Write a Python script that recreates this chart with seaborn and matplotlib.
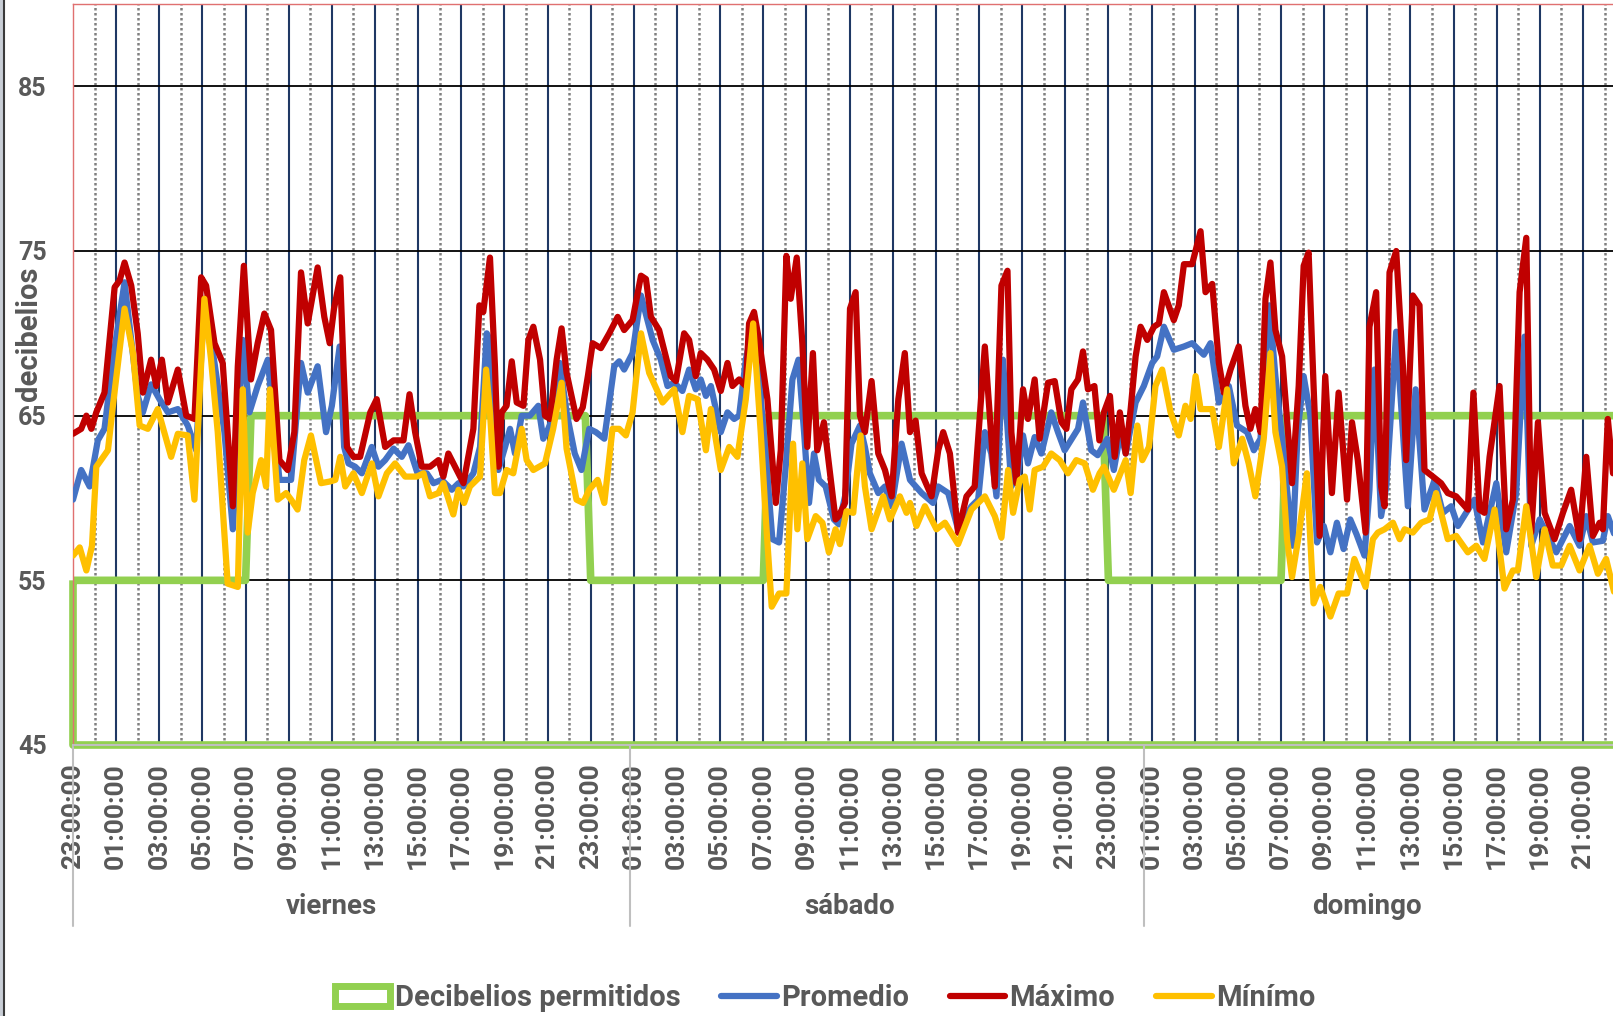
import matplotlib
matplotlib.use("Agg")
import matplotlib.pyplot as plt
import matplotlib.transforms as mtransforms
from matplotlib.lines import Line2D
from matplotlib.patches import Patch, Rectangle
import seaborn as sns

# Horas contadas desde el jueves 23:00:00
perm_h = [0, 8.0, 8.25, 23.75, 24.0, 32.0, 32.25, 47.75, 48.0, 56.0, 56.25, 72.0]
perm_db = [55, 55, 65, 65, 55, 55, 65, 65, 55, 55, 65, 65]

max_h = [0, 0.38, 0.62, 0.85, 1.08, 1.46, 1.93, 2.16, 2.39, 2.7, 3.0, 3.24, 3.62, 3.86, 4.12, 4.4, 4.86,
         5.25, 5.63, 5.94, 6.17, 6.56, 6.94, 7.41, 7.64, 7.92, 8.25, 8.56, 8.87, 9.18, 9.57, 9.95, 10.26,
         10.57, 10.88, 11.34, 11.65, 11.9, 12.1, 12.39, 12.54, 12.7, 13.0, 13.31, 13.78, 14.08, 14.47,
         14.86, 15.32, 15.6, 15.86, 16.17, 16.55, 16.94, 17.17, 17.4, 17.71, 18.1, 18.56, 18.84, 19.02,
         19.33, 19.56, 19.72, 19.87, 20.1, 20.34, 20.57, 20.88, 21.11, 21.34, 21.65, 21.88, 22.11, 22.42,
         22.65, 22.88, 23.34, 23.63, 23.88, 24.09, 24.47, 24.86, 25.25, 25.55, 25.94, 26.33, 26.56, 26.79,
         27.17, 27.71, 27.95, 28.33, 28.56, 28.87, 29.1, 29.41, 29.72, 30.03, 30.34, 30.57, 30.88, 31.19,
         31.34, 31.57, 31.8, 32.19, 32.58, 32.81, 33.07, 33.27, 33.55, 33.81, 34.04, 34.3, 34.5, 34.81,
         35.35, 35.5, 35.79, 36.02, 36.28, 36.48, 36.71, 37.02, 37.33, 37.64, 37.95, 38.26, 38.56, 38.8,
         39.06, 39.34, 39.8, 40.11, 40.34, 40.65, 41.03, 41.42, 41.8, 42.27, 42.5, 42.73, 43.04, 43.32,
         43.5, 43.73, 44.04, 44.27, 44.58, 44.81, 45.2, 45.51, 45.82, 46.05, 46.28, 46.59, 46.82, 47.05,
         47.35, 47.58, 47.79, 48.07, 48.29, 48.53, 48.8, 49.03, 49.26, 49.49, 49.8, 50.11, 50.34, 50.57,
         51.03, 51.26, 51.5, 51.88, 52.27, 52.5, 52.81, 53.12, 53.35, 53.66, 54.04, 54.35, 54.58, 54.81,
         55.05, 55.28, 55.51, 55.74, 56.05, 56.51, 56.82, 57.05, 57.28, 57.51, 57.79, 58.05, 58.36, 58.67,
         59.06, 59.29, 59.56, 59.92, 60.1, 60.41, 60.64, 60.8, 61.03, 61.34, 61.65, 61.8, 62.11, 62.42,
         62.65, 63.04, 63.42, 63.73, 64.12, 64.66, 64.92, 65.2, 65.43, 65.67, 66.13, 66.44, 66.75, 67.06,
         67.37, 67.6, 67.91, 68.22, 68.68, 69.07, 69.45, 69.84, 70.15, 70.46, 70.77, 70.92, 71.15, 71.39,
         71.53]
max_db = [63.9, 64.2, 65.0, 64.2, 65.2, 66.4, 72.8, 73.2, 74.3, 72.9, 70.0, 66.4, 68.4, 66.8, 68.4, 65.8, 67.8,
          65.0, 64.8, 73.4, 72.9, 69.4, 68.2, 59.5, 68.0, 74.1, 67.2, 69.4, 71.2, 70.2, 62.3, 61.7, 64.0,
          73.7, 70.6, 74.0, 71.0, 69.4, 71.5, 73.4, 68.0, 63.1, 62.5, 62.5, 65.2, 66.0, 63.1,
          63.5, 63.5, 66.3, 64.0, 61.9, 61.9, 62.3, 61.3, 62.7, 61.9, 60.9, 64.2, 71.7, 71.3,
          74.6, 68.0, 61.9, 65.2, 65.6, 68.3, 65.8, 65.6, 69.6, 70.4, 68.4, 65.0, 64.8, 68.4,
          70.3, 67.6, 64.8, 65.5, 67.5, 69.4, 69.1, 70.0, 71.0, 70.2, 70.8, 73.5, 73.3, 71.0,
          70.2, 67.4, 67.1, 70.0, 69.6, 67.4, 68.8, 68.4, 67.8, 66.5, 68.2, 66.8, 67.2, 66.8,
          70.6, 71.3, 69.6, 66.0, 59.7, 62.9, 74.7, 72.1, 74.6, 69.4, 63.1, 68.8, 62.9, 64.6,
          58.7, 58.9, 59.7, 71.5, 72.5, 65.0, 64.0, 67.1, 62.7, 61.7, 60.1, 66.0, 68.8, 64.0,
          64.7, 61.5, 60.1, 62.9, 64.0, 62.7, 57.9, 60.1, 60.7, 69.2, 65.0, 60.7, 72.9, 73.8,
          64.0, 60.9, 66.6, 64.8, 67.2, 63.6, 67.0, 67.1, 64.6, 64.2, 66.6, 67.2, 68.9, 66.6,
          66.8, 63.5, 65.2, 66.2, 62.5, 65.2, 62.7, 65.4, 68.6, 70.4, 69.6, 70.4, 70.6, 72.5,
          70.8, 71.7, 74.2, 74.2, 76.2, 72.5, 73.0, 68.2, 66.4, 67.8, 69.2, 65.6, 64.2, 65.4,
          64.0, 72.1, 74.3, 70.2, 68.6, 60.9, 66.8, 74.1, 74.9, 66.8, 57.7, 67.4, 60.3, 66.4,
          59.9, 64.6, 62.3, 57.9, 70.4, 72.5, 60.7, 59.5, 73.7, 75.0, 68.0, 62.3, 72.3, 71.7,
          61.7, 61.3, 60.9, 60.3, 60.1, 59.3, 66.4, 59.3, 59.1, 62.5, 66.8, 58.1, 59.9, 72.5,
          75.8, 57.9, 64.6, 59.1, 57.5, 59.1, 60.5, 57.5, 62.5, 57.7, 58.5, 58.1, 64.8, 61.5,
          61.9]

prom_h = [0, 0.38, 0.77, 1.15, 1.46, 1.85, 2.39, 3.0, 3.24, 3.62, 4.01, 4.4, 4.86, 5.32, 5.71, 6.09, 6.56,
          7.02, 7.41, 7.87, 8.18, 8.56, 9.03, 9.57, 10.11, 10.57, 10.88, 11.34, 11.73, 12.0, 12.36, 12.57,
          12.77, 13.08, 13.39, 13.85, 14.16, 14.47, 14.86, 15.24, 15.55, 15.97, 16.4, 16.71, 17.09, 17.56,
          17.87, 18.1, 18.56, 18.87, 19.18, 19.33, 19.49, 19.72, 20.03, 20.26, 20.49, 20.8, 21.18, 21.57,
          21.8, 22.03, 22.34, 22.57, 22.88, 23.26, 23.57, 23.93, 24.24, 24.63, 25.09, 25.32, 25.55, 25.94,
          26.33, 26.87, 27.25, 27.56, 27.87, 28.25, 28.56, 28.87, 29.1, 29.34, 29.57, 30.03, 30.34, 30.65,
          30.88, 31.19, 31.5, 31.8, 32.11, 32.42, 32.73, 33.04, 33.35, 33.63, 33.89, 34.12, 34.35, 34.58,
          34.89, 35.27, 35.5, 35.79, 36.09, 36.48, 36.71, 36.94, 37.33, 37.64, 37.95, 38.41, 38.8, 39.34,
          39.87, 40.11, 40.57, 41.03, 41.65, 41.96, 42.27, 42.57, 42.81, 43.11, 43.5, 43.81, 44.04, 44.27,
          44.58, 44.89, 45.35, 45.66, 45.97, 46.59, 46.82, 47.2, 47.5, 47.95, 48.25, 48.56, 48.8, 49.26,
          49.64, 50.03, 50.26, 50.57, 51.03, 51.5, 51.88, 52.42, 52.73, 53.12, 53.58, 53.96, 54.43, 54.74,
          55.05, 55.28, 55.46, 55.74, 56.05, 56.28, 56.54, 56.77, 57.05, 57.36, 57.67, 57.98, 58.29, 58.59,
          58.9, 59.21, 59.5, 59.87, 60.1, 60.33, 60.64, 60.88, 61.34, 61.88, 62.24, 62.65, 63.12, 63.5,
          63.89, 64.2, 64.58, 64.97, 65.36, 65.98, 66.44, 66.9, 67.29, 67.6, 67.99, 68.29, 68.76, 69.38,
          69.84, 70.15, 70.46, 70.92, 71.15, 71.53]
prom_db = [59.9, 61.7, 60.7, 63.5, 64.2, 68.4, 73.1, 66.2, 65.2, 66.9, 66.0, 65.2, 65.4, 64.4, 62.9, 72.1, 68.2,
           64.0, 58.1, 69.6, 65.2, 66.8, 68.4, 61.1, 61.1, 68.2, 66.4, 68.0, 64.0, 65.6, 69.2, 63.1,
           62.1, 61.9, 61.5, 63.1, 61.9, 62.3, 63.0, 62.5, 63.2, 61.5, 61.5, 60.9, 61.1, 60.5,
           60.9, 60.7, 61.5, 63.1, 70.0, 69.6, 64.0, 61.7, 63.1, 64.2, 62.7, 65.0, 65.0, 65.6,
           63.6, 64.2, 65.2, 68.2, 65.2, 62.7, 61.7, 64.2, 64.0, 63.6, 68.0, 68.3, 67.8, 68.8,
           72.3, 69.6, 68.4, 66.8, 67.0, 66.5, 67.8, 66.6, 67.2, 66.2, 66.8, 64.0, 65.2, 64.8,
           65.0, 68.4, 70.4, 67.2, 62.7, 57.5, 57.3, 61.9, 67.2, 68.4, 64.0, 59.7, 62.7, 61.1,
           60.7, 58.7, 58.4, 60.1, 63.3, 64.4, 63.1, 61.5, 60.3, 60.7, 59.5, 63.3, 61.1, 60.3,
           59.7, 60.7, 60.3, 58.1, 59.5, 59.9, 64.0, 62.7, 60.1, 68.4, 60.7, 61.5, 63.8, 62.1,
           63.7, 62.7, 65.2, 64.0, 62.9, 64.2, 65.8, 62.9, 62.6, 63.6, 61.7, 64.0, 62.7, 65.8,
           66.8, 68.2, 68.6, 70.4, 69.0, 69.2, 69.4, 68.7, 69.4, 65.8, 66.8, 64.4, 64.0, 62.9,
           63.6, 68.0, 71.7, 67.4, 63.6, 60.5, 57.1, 64.0, 67.4, 65.0, 57.3, 58.3, 56.7, 58.5,
           56.9, 58.7, 57.8, 56.5, 60.5, 67.8, 58.9, 60.7, 70.1, 59.5, 66.6, 59.3, 61.1, 59.1,
           59.5, 58.3, 59.1, 59.9, 57.3, 60.9, 56.7, 60.3, 69.8, 57.1, 58.7, 57.9, 56.7, 58.3,
           57.1, 58.9, 57.3, 57.4, 58.9, 57.5]

min_h = [0, 0.31, 0.62, 0.88, 1.08, 1.62, 1.85, 2.39, 2.78, 3.09, 3.47, 3.93, 4.55, 4.86, 5.32, 5.63, 6.09,
         6.4, 6.71, 7.17, 7.64, 7.87, 8.1, 8.33, 8.72, 8.95, 9.13, 9.49, 9.88, 10.11, 10.41, 10.72, 11.03,
         11.5, 11.9, 12.16, 12.39, 12.62, 13.0, 13.39, 13.85, 14.16, 14.55, 14.93, 15.4, 15.94, 16.25,
         16.55, 16.94, 17.17, 17.63, 17.87, 18.13, 18.4, 18.87, 19.15, 19.33, 19.56, 19.79, 20.1, 20.41,
         20.8, 21.03, 21.34, 21.88, 22.26, 22.65, 22.88, 23.34, 23.65, 23.93, 24.32, 24.63, 25.01, 25.32,
         25.63, 25.94, 26.33, 26.71, 27.33, 27.87, 28.25, 28.56, 28.95, 29.34, 29.57, 30.03, 30.42, 30.8,
         31.19, 31.53, 31.88, 32.11, 32.39, 32.73, 33.07, 33.38, 33.58, 33.81, 34.04, 34.43, 34.74, 35.04,
         35.35, 35.55, 35.86, 36.17, 36.51, 36.71, 37.02, 37.56, 37.87, 38.33, 38.64, 38.8, 39.1, 39.49,
         40.03, 40.42, 41.03, 41.65, 42.27, 42.73, 43.04, 43.35, 43.58, 43.89, 44.12, 44.35, 44.58, 44.97,
         45.35, 45.74, 46.12, 46.51, 46.9, 47.28, 47.59, 47.79, 48.25, 48.8, 49.03, 49.34, 49.57, 49.88,
         50.18, 50.49, 50.88, 51.26, 51.57, 51.81, 52.04, 52.27, 52.81, 53.12, 53.5, 53.81, 54.2, 54.5,
         54.81, 55.2, 55.51, 55.74, 56.05, 56.28, 56.51, 56.82, 57.2, 57.51, 57.82, 58.29, 58.67, 59.06,
         59.4, 59.92, 60.26, 60.49, 60.8, 61.19, 61.5, 61.73, 62.11, 62.5, 62.89, 63.19, 63.73, 64.12,
         64.66, 65.05, 65.43, 65.9, 66.36, 66.75, 66.98, 67.37, 67.83, 68.22, 68.6, 68.99, 69.38, 69.84,
         70.3, 70.69, 71.07, 71.53]
min_db = [56.5, 57.0, 55.6, 57.1, 61.9, 62.9, 65.6, 71.5, 68.8, 64.4, 64.2, 65.4, 62.5, 63.9, 63.8, 59.9, 72.1,
          68.4, 64.0, 54.8, 54.6, 66.6, 57.9, 60.3, 62.3, 60.7, 66.6, 59.9, 60.3, 59.9, 59.3, 62.3, 63.8,
          60.9, 61.0, 61.1, 62.5, 60.7, 61.5, 60.3, 62.1, 60.1, 61.5, 62.1, 61.3, 61.3, 61.5,
          60.1, 60.3, 60.9, 59.0, 60.5, 59.7, 60.7, 61.3, 67.8, 65.2, 60.3, 60.3, 61.7, 61.5,
          64.2, 62.3, 61.7, 62.1, 64.2, 67.0, 63.0, 59.9, 59.7, 60.5, 61.1, 59.7, 64.2, 64.2,
          63.8, 65.2, 70.0, 67.6, 65.8, 66.6, 64.0, 66.2, 66.0, 62.9, 65.4, 61.7, 63.1, 62.5,
          66.0, 70.6, 64.0, 58.9, 53.4, 54.2, 54.2, 63.3, 58.1, 62.1, 57.5, 58.9, 58.5, 56.7,
          58.1, 57.2, 59.2, 59.1, 63.8, 60.7, 58.1, 60.1, 58.7, 60.1, 59.1, 59.7, 58.3, 59.5,
          58.1, 58.5, 57.2, 59.3, 60.1, 58.9, 57.6, 61.7, 59.1, 61.1, 61.3, 59.3, 61.7, 61.9,
          62.7, 62.3, 61.5, 62.3, 62.1, 60.5, 61.5, 61.9, 60.5, 62.3, 60.3, 64.4, 62.3, 63.1,
          66.8, 67.8, 65.2, 63.8, 65.6, 64.8, 67.4, 65.4, 65.4, 63.1, 66.6, 62.1, 63.6, 62.1,
          60.1, 63.6, 68.8, 64.0, 61.9, 57.5, 55.2, 57.7, 61.5, 53.6, 54.6, 52.8, 54.2, 54.2,
          56.3, 54.6, 57.5, 57.9, 58.1, 58.5, 57.5, 58.1, 57.9, 58.5, 58.7, 60.3, 57.5, 57.7,
          56.7, 57.1, 56.3, 59.3, 54.5, 55.6, 55.6, 59.5, 55.2, 58.1, 55.9, 55.9, 57.1, 55.6,
          57.1, 55.4, 56.3, 53.8]

dias = ["viernes", "sábado", "domingo"]
dias_centro_h = [12.0, 36.0, 60.0]
dias_borde_h = [0, 25.8, 49.65]
horas_dia = ["23:00:00", "01:00:00", "03:00:00", "05:00:00", "07:00:00", "09:00:00",
             "11:00:00", "13:00:00", "15:00:00", "17:00:00", "19:00:00", "21:00:00"]

VERDE = "#92D050"
AZUL = "#4472C4"
ROJO = "#C00000"
AMARILLO = "#FFC000"
GRIS_TXT = "#595959"

sns.set_style("white")
plt.rcParams["font.family"] = ["Roboto", "DejaVu Sans"]

fig = plt.figure(figsize=(16.13, 10.16), dpi=100)
ax = fig.add_axes([73 / 1613, 1 - 745 / 1016, 1 - 73 / 1613, 741 / 1016])

# area "Decibelios permitidos" solo con borde
ax.fill_between(perm_h, 45, perm_db, facecolor="none", edgecolor=VERDE,
                linewidth=5.5, clip_on=False, zorder=2)

sns.lineplot(x=prom_h, y=prom_db, color=AZUL, linewidth=4.5, sort=False,
             estimator=None, ax=ax, zorder=3, solid_joinstyle="round")
sns.lineplot(x=max_h, y=max_db, color=ROJO, linewidth=4.5, sort=False,
             estimator=None, ax=ax, zorder=4, solid_joinstyle="round")
sns.lineplot(x=min_h, y=min_db, color=AMARILLO, linewidth=4.5, sort=False,
             estimator=None, ax=ax, zorder=5, solid_joinstyle="round")

ax.set_xlim(0, 71.39)
ax.set_ylim(45, 90)
ax.set_yticks([45, 55, 65, 75, 85])
ax.set_xticks(list(range(0, 71, 2)))
ax.set_xticklabels(horas_dia * 3)
ax.set_xticks(list(range(1, 72, 2)), minor=True)

ax.set_axisbelow(True)
ax.grid(axis="y", color="black", linewidth=1.3)
ax.grid(axis="x", which="major", color="#1F3864", linewidth=1.5)
ax.grid(axis="x", which="minor", color="#808080", linewidth=1.8, linestyle=(0, (1, 1)))
ax.get_xgridlines()[0].set_visible(False)

ax.tick_params(axis="x", which="both", length=0, pad=13, labelsize=19,
               labelrotation=90, labelcolor=GRIS_TXT)
ax.tick_params(axis="y", length=0, pad=19, labelsize=18, labelcolor=GRIS_TXT)
for lab in ax.get_xticklabels() + ax.get_yticklabels():
    lab.set_fontweight("bold")
ax.set_xlabel("")
ax.set_ylabel("")

for lado in ["top", "left"]:
    ax.spines[lado].set_color("#E07070")
    ax.spines[lado].set_linewidth(1.0)
ax.spines["right"].set_visible(False)
ax.spines["bottom"].set_color("#BFBFBF")
ax.spines["bottom"].set_linewidth(1.5)

# etiquetas de dia y separadores bajo el eje
trans = mtransforms.blended_transform_factory(ax.transData, ax.transAxes)
for borde in dias_borde_h:
    ax.plot([borde, borde], [0, -0.244], color="#BFBFBF", linewidth=1.5,
            transform=trans, clip_on=False)
for nombre, centro in zip(dias, dias_centro_h):
    ax.text(centro, -0.2186, nombre, transform=trans, ha="center", va="center",
            fontsize=20, fontweight="bold", color=GRIS_TXT)

fig.text(29 / 1613, 1 - 334 / 1016, "decibelios", rotation=90, ha="center",
         va="center", fontsize=21, fontweight="bold", color=GRIS_TXT)

# borde izquierdo del grafico
fig.add_artist(Rectangle((0, 0), 3 / 1613, 1, transform=fig.transFigure,
                         facecolor="#C9CED6", edgecolor="none"))
fig.add_artist(Line2D([3.5 / 1613, 3.5 / 1613], [0, 1], transform=fig.transFigure,
                      color="#3A3A3A", linewidth=1.5))

handles = [
    Patch(facecolor="white", edgecolor=VERDE, linewidth=5),
    Line2D([], [], color=AZUL, linewidth=4.5),
    Line2D([], [], color=ROJO, linewidth=4.5),
    Line2D([], [], color=AMARILLO, linewidth=4.5),
]
etiquetas = ["Decibelios permitidos", "Promedio", "Máximo", "Mínímo"]
leg = fig.legend(handles, etiquetas, loc="center", bbox_to_anchor=(0.5115, 0.0177),
                 ncol=4, frameon=False, handlelength=1.9, handletextpad=0.15,
                 columnspacing=1.4, prop={"weight": "bold", "size": 21})
for t in leg.get_texts():
    t.set_color(GRIS_TXT)

fig.savefig("out.png", dpi=100)
